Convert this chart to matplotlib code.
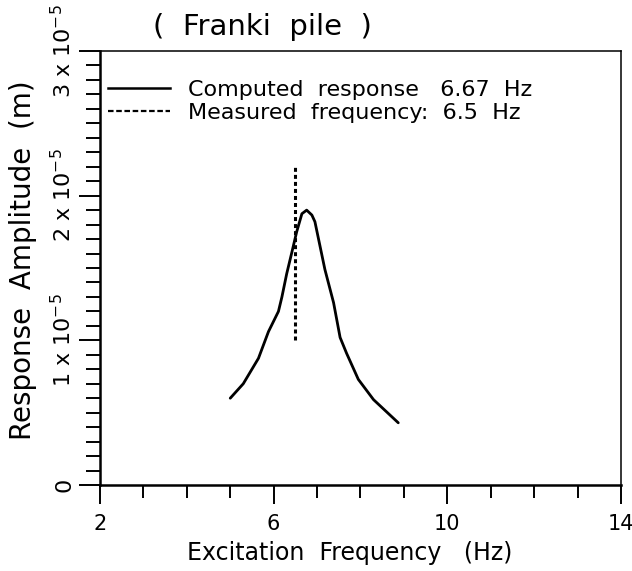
import matplotlib
matplotlib.use('Agg')
import matplotlib.pyplot as plt
from matplotlib.lines import Line2D
from matplotlib.ticker import MultipleLocator

''' Data read off the figure. '''
freq = [5.00, 5.30, 5.65, 5.88, 6.11, 6.19, 6.30, 6.42, 6.53, 6.65, 6.76,
		6.88, 6.95, 7.18, 7.38, 7.53, 7.68, 7.95, 8.30, 8.87]
amp = [0.60, 0.70, 0.876, 1.06, 1.20, 1.30, 1.46, 1.61, 1.75, 1.875, 1.90,
	   1.866, 1.82, 1.49, 1.26, 1.02, 0.91, 0.73, 0.59, 0.43]
amp = [a * 1e-5 for a in amp]
measured_freq = 6.5
measured_range = [1.0e-5, 2.2e-5]

x_ticks = [2, 6, 10, 14]
y_ticks = [0, 1e-5, 2e-5, 3e-5]
y_tick_labels = ['0', '1 x 10$^{-5}$', '2 x 10$^{-5}$', '3 x 10$^{-5}$']
legend_labels = ['Computed  response   6.67  Hz', 'Measured  frequency:  6.5  Hz']


def main():
	fig = plt.figure(figsize = (6.32, 5.71), dpi = 100)
	ax = fig.add_axes([100 / 632, 86 / 571, 521 / 632, 434 / 571])

	''' Curves. '''
	ax.plot(freq, amp, color = 'black', lw = 2.0, solid_capstyle = 'round',
			solid_joinstyle = 'round')
	ax.vlines(measured_freq, measured_range[0], measured_range[1],
			  colors = 'black', lw = 2.2, linestyles = (0, (1.3, 1.0)))

	''' Axes, ticks. '''
	ax.set_xlim(2, 14)
	ax.set_ylim(0, 3e-5)
	ax.set_xticks(x_ticks)
	ax.xaxis.set_minor_locator(MultipleLocator(1))
	ax.set_yticks(y_ticks)
	ax.set_yticklabels(y_tick_labels, rotation = 90, va = 'center')
	ax.yaxis.set_minor_locator(MultipleLocator(0.1e-5))
	ax.tick_params(axis = 'x', which = 'major', direction = 'out', length = 14,
				   width = 1.4, pad = 7, labelsize = 15)
	ax.tick_params(axis = 'x', which = 'minor', direction = 'out', length = 9, width = 1.4)
	ax.tick_params(axis = 'y', which = 'major', direction = 'out', length = 15,
				   width = 1.4, pad = 3, labelsize = 16)
	ax.tick_params(axis = 'y', which = 'minor', direction = 'out', length = 10, width = 1.4)
	for side in ['left', 'bottom']:
		ax.spines[side].set_linewidth(1.8)
	for side in ['top', 'right']:
		ax.spines[side].set_linewidth(1.1)

	''' Labels. '''
	ax.set_xlabel('Excitation  Frequency   (Hz)', fontsize = 17)
	ax.xaxis.set_label_coords(0.48, -0.128)
	ax.set_ylabel('Response  Amplitude  (m)', fontsize = 20)
	ax.yaxis.set_label_coords(-0.12, 0.518)
	fig.text(153 / 632, 1 - 27 / 571, '(  Franki  pile  )', fontsize = 21,
			 ha = 'left', va = 'center')

	''' Legend. '''
	handles = [Line2D([], [], color = 'black', lw = 1.8),
			   Line2D([], [], color = 'black', lw = 1.6, linestyle = (0, (2.5, 1.2)))]
	ax.legend(handles, legend_labels, loc = 'upper left', bbox_to_anchor = (0.0154, 0.933),
			  frameon = False, fontsize = 16, handlelength = 2.8, handletextpad = 0.8,
			  labelspacing = 0.12, borderpad = 0, borderaxespad = 0)

	fig.savefig('out.png', dpi = 100)


if __name__ == '__main__':
	main()
